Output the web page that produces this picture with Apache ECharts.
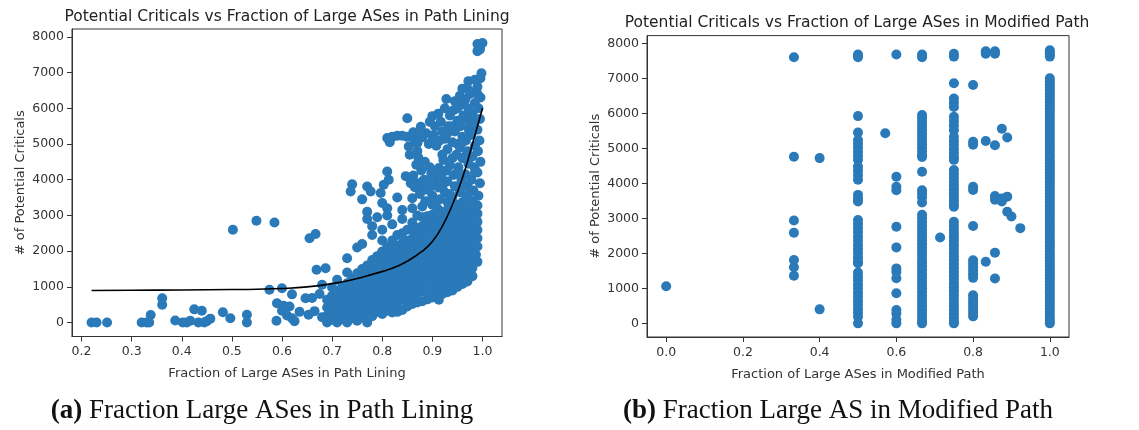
<!DOCTYPE html>
<html>
<head>
<meta charset="utf-8">
<script src="https://cdn.jsdelivr.net/npm/echarts@6/dist/echarts.min.js"></script>
<style>
  html, body { margin: 0; padding: 0; background: #fff; }
  #chart { width: 1139px; height: 430px; }
</style>
</head>
<body>
<div id="chart"></div>
<script>
// ---- panel (a): fraction of large ASes in path lining ----
const liningSparse = [
  [0.22,0],[0.23,0],[0.251,0],[0.32,0],[0.33,0],[0.338,210],[0.335,0],[0.361,680],[0.361,500],
  [0.387,60],[0.402,0],[0.41,0],[0.417,50],[0.425,370],[0.44,330],[0.433,0],[0.445,0],[0.45,40],
  [0.457,110],[0.482,290],[0.497,120],[0.53,220],[0.53,0],[0.502,2600],[0.549,2850],[0.585,2800],
  [0.575,920],[0.6,960],[0.62,790],[0.59,540],[0.603,470],[0.615,450],[0.6,330],[0.589,50],
  [0.61,200],[0.62,120],[0.635,300],[0.625,40],[0.647,680],[0.66,690],[0.653,220],[0.665,320],
  [0.655,2360],[0.667,2480],[0.669,1480],[0.687,1520],[0.68,1060],[0.675,800],[0.68,150],
  [0.74,3870],[0.737,3670],[0.77,3810],[0.777,3670],[0.797,3630],[0.803,3860],[0.81,4230],
  [0.813,4000],[0.81,5170],[0.82,5200],[0.83,5230],[0.84,5230],[0.85,5200],[0.815,5050],
  [0.853,4930],[0.847,4100],[0.857,3900],[0.83,3500],[0.8,3350],[0.76,3450],[0.85,5720],
  [0.928,6260],[0.972,6760],[0.99,7600],[0.995,7700],[0.99,7800],[1.0,7830],[0.995,7650],
  [0.998,6980],[0.996,6840],[0.913,640],[0.975,1430],[0.987,1900]
];
const liningCoreX = [0.69,0.70,0.71,0.72,0.73,0.74,0.75,0.76,0.77,0.78,0.79,0.80,0.81,0.82,0.83,
  0.84,0.85,0.86,0.87,0.88,0.89,0.90,0.91,0.92,0.93,0.94,0.95,0.96,0.97,0.98,0.99];
const liningCoreY = [
  [0,200,420,640],
  [80,300,520,750,980],
  [0,220,440,660,880,1200],
  [100,330,560,780,1000],
  [0,200,420,650,870,1100,1400,1800],
  [120,340,560,790,1010,1230],
  [50,260,480,700,930,1150,1380,2100],
  [150,370,600,820,1040,1270,1500,2200],
  [0,260,480,710,930,1160,1390,1600,2900,3100],
  [180,400,620,850,1070,1300,1530,1750,2450,2700],
  [300,510,740,960,1190,1410,1640,1860,2950],
  [240,420,640,860,1080,1310,1540,1760,1990,2300,2600],
  [330,540,770,990,1210,1440,1660,1890,2120,3000,3200],
  [280,460,680,900,1120,1350,1580,1800,2030,2300,2750],
  [300,560,790,1010,1240,1460,1690,1920,2150,2450],
  [350,640,870,1100,1320,1550,1780,2000,2230,2500,2900,3150],
  [450,700,930,1150,1380,1600,1830,2060,2290,2600],
  [520,760,990,1210,1440,1670,1890,2120,2350,2580,2800,3200],
  [560,820,1050,1280,1500,1730,1950,2180,2400,2650,3000],
  [600,870,1100,1330,1560,1780,2010,2240,2470,2700,2950,3250],
  [650,900,1130,1360,1590,1820,2050,2270,2500,2740,2980],
  [700,950,1180,1410,1640,1870,2100,2330,2560,2790,3020,3300],
  [900,1120,1350,1580,1810,2040,2270,2500,2730,2960,3200],
  [800,1030,1260,1490,1720,1950,2180,2410,2640,2870,3100],
  [850,1080,1310,1540,1770,2000,2230,2460,2690,2920,3150,3380],
  [900,1130,1360,1590,1820,2050,2280,2510,2740,2970,3200],
  [1000,1230,1460,1690,1920,2150,2380,2610,2840,3070,3300],
  [1080,1300,1530,1760,1990,2220,2450,2680,2910,3140,3370],
  [1150,1380,1610,1840,2070,2300,2530,2760,2990,3220],
  [1300,1530,1760,1990,2220,2450,2680,2910,3140],
  [1700,2130,2360,2590,2820,3050,3280]
];
const liningUpper = [
  [0.86,3480],[0.865,3790],[0.862,4120],[0.868,4420],[0.855,4700],[0.87,5020],[0.862,5330],
  [0.875,3600],[0.878,4260],[0.872,4620],[0.88,5180],[0.877,5480],
  [0.886,3400],[0.89,3720],[0.884,4000],[0.893,5000],[0.888,5300],[0.895,5620],
  [0.9,3560],[0.905,3900],[0.898,4180],[0.908,4950],[0.903,5250],[0.9,5780],
  [0.915,3450],[0.912,3780],[0.918,4060],[0.913,4330],[0.92,5350],[0.917,5620],[0.912,5850],
  [0.925,3650],[0.93,3950],[0.927,4250],[0.922,4550],[0.93,4850],[0.926,5150],[0.932,5500],[0.935,5800],
  [0.94,3500],[0.945,3820],[0.942,4130],[0.948,4700],[0.94,5050],[0.945,5350],[0.95,5650],[0.943,5950],
  [0.955,3650],[0.958,4000],[0.952,4350],[0.96,4600],[0.955,4900],[0.96,5200],[0.956,5500],
  [0.962,5800],[0.958,6100],[0.955,6350],
  [0.968,3500],[0.97,3850],[0.966,4150],[0.972,4450],[0.97,4800],[0.967,5100],[0.973,5400],
  [0.968,5700],[0.972,6000],[0.966,6250],[0.97,6550],
  [0.98,3400],[0.982,3700],[0.978,4000],[0.984,4350],[0.98,4650],[0.985,4950],[0.978,5250],
  [0.983,5550],[0.98,5850],[0.985,6150],[0.98,6450],
  [0.992,3550],[0.995,3900],[0.99,4200],[0.996,4500],[0.991,4800],[0.994,5100],[0.99,5400],
  [0.995,5700],[0.992,6000],[0.996,6300],[0.99,6600],
  [0.87,3900],[0.88,3950],[0.885,4500],[0.895,4350],[0.9,4000],[0.91,4150],[0.905,5500],
  [0.915,5100],[0.92,4700],[0.935,4400],[0.94,4600],[0.95,4200],[0.95,5000],[0.965,4650],
  [0.96,3800],[0.975,3650],[0.975,5550],[0.985,4200],[0.985,5700],[0.99,6400],[0.96,6550],
  [0.95,6000],[0.94,5500],[0.93,5300],[0.92,3800],[0.9,3350],[0.875,5300],[0.865,5100],
  [0.87,4800],[0.9,5100],[0.925,6000],[0.945,6200],[0.985,6800],[0.975,6400],[0.96,5050],
  [0.935,3600],[0.88,3700],[0.895,3800]
];
const fitX = [0.22,0.3,0.4,0.5,0.55,0.6,0.65,0.7,0.74,0.78,0.82,0.85,0.88,0.9,0.92,0.94,0.96,0.98,1.0];
const fitY = [900,905,912,925,935,955,1000,1090,1200,1350,1520,1720,2000,2270,2700,3300,4050,5000,6000];

// ---- panel (b): fraction of large ASes in modified path ----
const modFractions = [0,0.333,0.4,0.5,0.571,0.6,0.667,0.714,0.75,0.8,0.833,0.857,0.875,0.889,0.9,0.923,1.0];
const modValues = [
  [1060],
  [7600,4760,2940,2590,1810,1600,1360],
  [4720,400],
  [7680,7600,5920,5450,5240,5130,5020,4900,4790,4670,4480,4360,4230,4100,3670,3560,3480,
   2950,2840,2720,2600,2480,2360,2240,2120,2000,1880,1760,1720,
   1450,1340,1230,1110,1000,880,770,650,540,420,310,190,0],
  [5430],
  [7680,4190,3900,3800,2760,2170,1570,1470,1290,860,380,280,100,0],
  [7680,7600,5950,5850,5740,5640,5530,5430,5320,5220,5110,5010,4900,4800,4750,4330,
   3800,3700,3600,3450,
   3100,3000,2890,2790,2680,2580,2470,2370,2260,2160,2050,1950,1840,1740,1630,1530,1420,1320,
   1210,1110,1000,900,790,690,580,480,370,270,160,60,0],
  [2450],
  [7700,7620,6860,6420,6300,6180,5900,5780,5650,5520,5330,5210,5100,4980,4870,4750,4670,
   4380,4270,4160,4050,3940,3830,3720,3610,3500,3400,3330,
   2900,2790,2680,2570,2460,2350,2240,2130,2020,1910,1800,1690,1580,1470,1360,1250,1140,1030,
   920,810,700,590,480,370,260,150,40,0],
  [6810,5190,5100,3900,3810,2780,1800,1700,1600,1500,1400,1300,800,700,600,500,400,300,200],
  [7770,7700,5210,1760],
  [7770,7700,5090,3640,3530,2020,1280],
  [5560,3570,3480],
  [5310,3620,3190],
  [3050],
  [2720],
  [7800,7740,7680,7620,
   7000,6910,6830,6740,6650,6570,6480,6390,6310,6220,6130,6050,5960,5870,5790,5700,5610,5530,
   5440,5350,5270,5180,5090,5010,4920,4830,4750,4660,4570,4490,4400,4310,4230,4140,4050,3970,
   3880,3790,3710,3620,3530,3450,3360,3270,3190,3100,3010,2930,2840,2750,2670,2580,2490,2410,
   2320,2230,2150,2060,1970,1890,1800,1710,1630,1540,1450,1370,1280,1190,1110,1020,930,850,
   760,670,590,500,410,330,240,150,70,0]
];

const yTicks = [0,1000,2000,3000,4000,5000,6000,7000,8000];
const liningTicks = [0.2,0.3,0.4,0.5,0.6,0.7,0.8,0.9,1.0];
const modTicks = [0,0.2,0.4,0.6,0.8,1.0];

function columnsToPoints(xs, ys) {
  const pts = [];
  xs.forEach((x, i) => ys[i].forEach(y => pts.push([x, y])));
  return pts;
}

const liningPoints = liningSparse
  .concat(columnsToPoints(liningCoreX, liningCoreY))
  .concat(liningUpper);
const modPoints = columnsToPoints(modFractions, modValues);
const fitPoints = fitX.map((x, i) => [x, fitY[i]]);

const FONT = 'DejaVu Sans';
const INK = '#333';
const DOT = '#2a79b8';

function xAxisFor(idx, min, max, ticks, name) {
  return {
    type: 'value', gridIndex: idx, min: min, max: max,
    splitLine: { show: false },
    axisLine: { show: true, onZero: false, lineStyle: { color: INK, width: 1 } },
    axisTick: { show: true, inside: false, length: 5, lineStyle: { color: INK }, customValues: ticks },
    axisLabel: { customValues: ticks, formatter: v => v.toFixed(1), color: INK,
      fontFamily: FONT, fontSize: 12.5, margin: 9 },
    name: name, nameLocation: 'middle', nameGap: 31,
    nameTextStyle: { fontFamily: FONT, fontSize: 13, color: INK }
  };
}
function yAxisFor(idx) {
  return {
    type: 'value', gridIndex: idx, min: -390, max: 8220,
    splitLine: { show: false },
    axisLine: { show: true, onZero: false, lineStyle: { color: INK, width: 1 } },
    axisTick: { show: true, inside: false, length: 5, lineStyle: { color: INK }, customValues: yTicks },
    axisLabel: { customValues: yTicks, formatter: v => String(v), color: INK,
      fontFamily: FONT, fontSize: 12.5, margin: 8 },
    name: '# of Potential Criticals', nameLocation: 'middle', nameGap: 45,
    nameTextStyle: { fontFamily: FONT, fontSize: 13, color: INK }
  };
}

const chart = echarts.init(document.getElementById('chart'), null, { renderer: 'canvas' });
chart.setOption({
  animation: false,
  backgroundColor: '#fff',
  grid: [
    { left: 72, top: 29, width: 430, height: 307.5, show: true, borderColor: INK, borderWidth: 1 },
    { left: 647, top: 35.6, width: 422, height: 301.4, show: true, borderColor: INK, borderWidth: 1 }
  ],
  xAxis: [
    xAxisFor(0, 0.181, 1.039, liningTicks, 'Fraction of Large ASes in Path Lining'),
    xAxisFor(1, -0.05, 1.05, modTicks, 'Fraction of Large ASes in Modified Path')
  ],
  yAxis: [yAxisFor(0), yAxisFor(1)],
  series: [
    { type: 'scatter', xAxisIndex: 0, yAxisIndex: 0, data: liningPoints,
      symbolSize: 10, itemStyle: { color: DOT, opacity: 1 }, z: 2 },
    { type: 'line', xAxisIndex: 0, yAxisIndex: 0, data: fitPoints, smooth: true,
      showSymbol: false, lineStyle: { color: '#000', width: 1.6 }, z: 3 },
    { type: 'scatter', xAxisIndex: 1, yAxisIndex: 1, data: modPoints,
      symbolSize: 10, itemStyle: { color: DOT, opacity: 1 }, z: 2 }
  ],
  graphic: [
    { type: 'text', x: 287, y: 17, style: { text: 'Potential Criticals vs Fraction of Large ASes in Path Lining',
      align: 'center', verticalAlign: 'middle', fontFamily: FONT, fontSize: 15.5, fill: '#222' } },
    { type: 'text', x: 857, y: 23, style: { text: 'Potential Criticals vs Fraction of Large ASes in Modified Path',
      align: 'center', verticalAlign: 'middle', fontFamily: FONT, fontSize: 15.5, fill: '#222' } },
    { type: 'text', x: 262, y: 411, style: { text: '{b|(a)} Fraction Large ASes in Path Lining',
      align: 'center', verticalAlign: 'middle', fontFamily: 'Liberation Serif', fontSize: 27, fill: '#111',
      rich: { b: { fontFamily: 'Liberation Serif', fontWeight: 'bold', fontSize: 27, fill: '#111' } } } },
    { type: 'text', x: 838, y: 411, style: { text: '{b|(b)} Fraction Large AS in Modified Path',
      align: 'center', verticalAlign: 'middle', fontFamily: 'Liberation Serif', fontSize: 27, fill: '#111',
      rich: { b: { fontFamily: 'Liberation Serif', fontWeight: 'bold', fontSize: 27, fill: '#111' } } } }
  ]
});
</script>
</body>
</html>
